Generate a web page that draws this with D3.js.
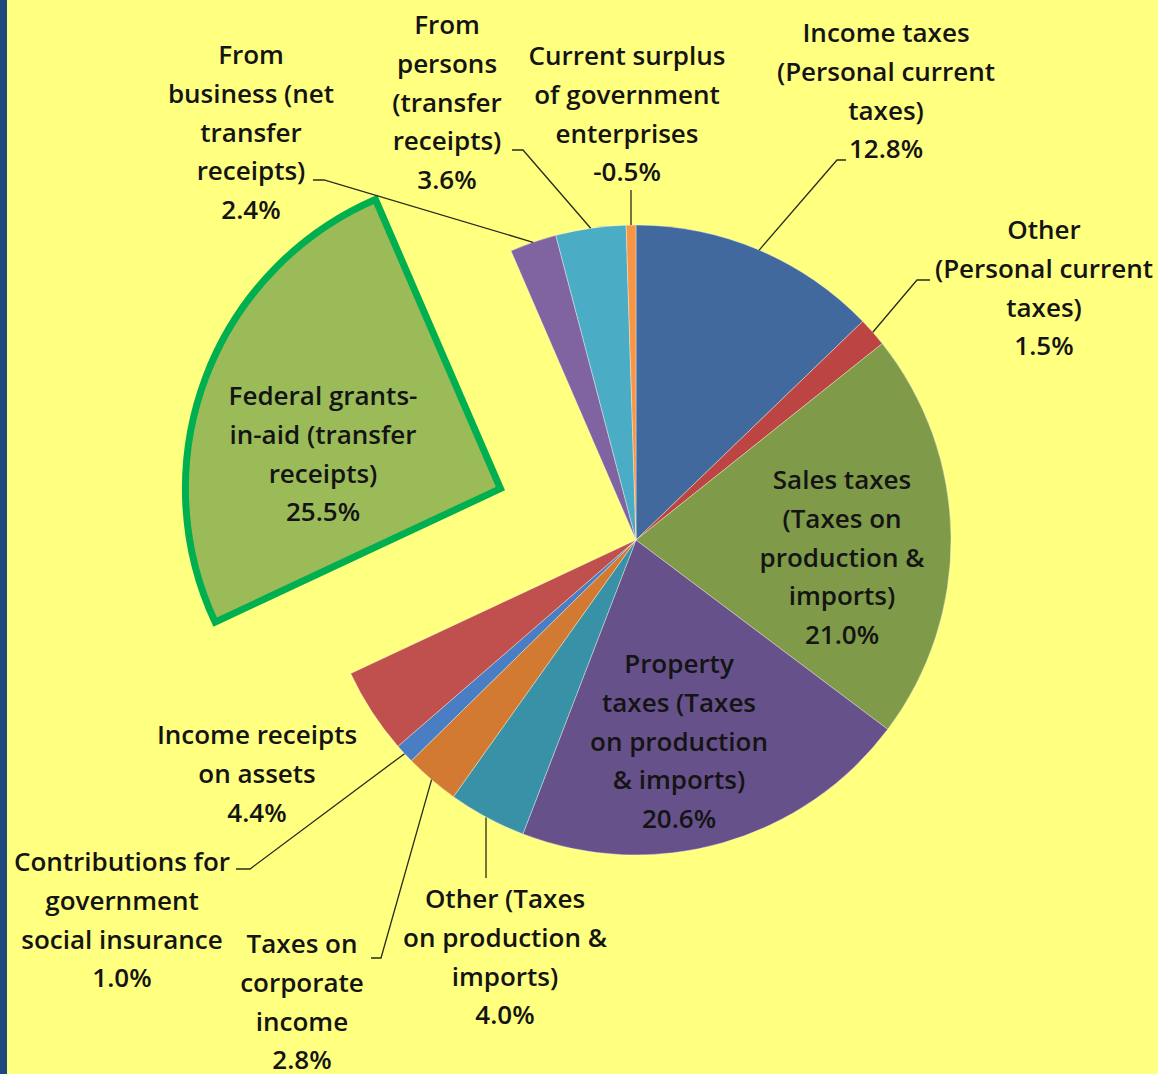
<!DOCTYPE html>
<html>
<head>
<meta charset="utf-8">
<script src="https://cdn.jsdelivr.net/npm/d3@7"></script>
<style>
  html, body { margin: 0; padding: 0; background: #FFFF80; }
  svg { display: block; }
  text { font-family: "Open Sans", Lato, sans-serif; font-weight: 600; fill: #141414; }
</style>
</head>
<body>
<svg id="chart" width="1158" height="1074"></svg>
<script>
// State and local government current receipts, share of total (%)
const categoryLines = [
  ["Income taxes", "(Personal current", "taxes)"],
  ["Other", "(Personal current", "taxes)"],
  ["Sales taxes", "(Taxes on", "production &", "imports)"],
  ["Property", "taxes (Taxes", "on production", "& imports)"],
  ["Other (Taxes", "on production &", "imports)"],
  ["Taxes on", "corporate", "income"],
  ["Contributions for", "government", "social insurance"],
  ["Income receipts", "on assets"],
  ["Federal grants-", "in-aid (transfer", "receipts)"],
  ["From", "business (net", "transfer", "receipts)"],
  ["From", "persons", "(transfer", "receipts)"],
  ["Current surplus", "of government", "enterprises"]
];
const shares = [12.8, 1.5, 21.0, 20.6, 4.0, 2.8, 1.0, 4.4, 25.5, 2.4, 3.6, -0.5];
const sliceColors = [
  "#41699D", "#BC4543", "#7F9A48", "#67518A", "#3891A7", "#D27A32",
  "#4A7EC4", "#C0504D", "#9BBB59", "#8064A2", "#4BACC6", "#F79646"
];
const highlighted = 8;   // Federal grants-in-aid is pulled out and outlined

// Label placement: centre x and first-line centre y for each slice label
const labelAt = [
  [886, 33], [1044, 230], [842, 480], [679, 664], [505, 899], [302, 944],
  [122, 862], [257, 735], [323, 396], [251, 55], [447, 25], [627, 56]
];
// Leader-line bends (from the slice rim to the label); null = no leader
const leaderBends = [
  [[837, 160], [846, 160]],
  [[917, 280], [930, 280]],
  null, null,
  [[486, 878]],
  [[381, 958], [371, 958]],
  [[250, 869], [236, 869]],
  null, null,
  [[324, 180], [313, 180]],
  [[523, 150], [512, 150]],
  [[631, 190]]
];

const W = 1158, H = 1074;
const cx = 636, cy = 540, R = 315, explode = 145, lineH = 38.7;

const svg = d3.select("#chart");
svg.append("rect").attr("width", W).attr("height", H).attr("fill", "#FFFF80");
svg.append("rect").attr("x", 0).attr("y", 0).attr("width", 7).attr("height", H).attr("fill", "#1F497D");

const pie = d3.pie().sort(null).value(d => Math.abs(d.value));
const data = shares.map((v, i) => ({ i, value: v, lines: categoryLines[i], color: sliceColors[i] }));
const arcs = pie(data);
const arc = d3.arc().innerRadius(0).outerRadius(R);

const offset = d => {
  if (d.data.i !== highlighted) return [0, 0];
  const a = (d.startAngle + d.endAngle) / 2;
  return [explode * Math.sin(a), -explode * Math.cos(a)];
};

const g = svg.append("g").attr("transform", `translate(${cx},${cy})`);

g.selectAll("path.slice")
  .data(arcs)
  .join("path")
  .attr("class", "slice")
  .attr("transform", d => `translate(${offset(d)})`)
  .attr("d", arc)
  .attr("fill", d => d.data.color)
  .attr("stroke", "#ffffff")
  .attr("stroke-opacity", 0.45)
  .attr("stroke-width", 0.8);

// outline on the pulled-out slice
g.selectAll("path.outline")
  .data(arcs.filter(d => d.data.i === highlighted))
  .join("path")
  .attr("class", "outline")
  .attr("transform", d => `translate(${offset(d)})`)
  .attr("d", arc)
  .attr("fill", "none")
  .attr("stroke", "#00B050")
  .attr("stroke-width", 7)
  .attr("stroke-linejoin", "miter");

// leader lines
const rim = d => {
  const a = (d.startAngle + d.endAngle) / 2;
  return [cx + R * Math.sin(a), cy - R * Math.cos(a)];
};
svg.selectAll("path.leader")
  .data(arcs.filter(d => leaderBends[d.data.i]))
  .join("path")
  .attr("class", "leader")
  .attr("d", d => {
    const p0 = rim(d);
    const bends = leaderBends[d.data.i];
    const pts = [p0].concat(bends);
    if (bends.length === 1) pts[0] = [bends[0][0], p0[1]];
    return d3.line()(pts);
  })
  .attr("fill", "none")
  .attr("stroke", "#2a2a1a")
  .attr("stroke-width", 1.3);

// labels: category lines followed by the value
const fmt = d3.formatLocale({ decimal: ".", thousands: ",", grouping: [3], currency: ["$", ""], minus: "-" }).format(".1f");
const labels = svg.selectAll("text.label")
  .data(arcs)
  .join("text")
  .attr("class", "label")
  .attr("text-anchor", "middle")
  .attr("font-size", 26);
labels.each(function(d) {
  const [x, y] = labelAt[d.data.i];
  const rows = d.data.lines.concat([fmt(d.data.value) + "%"]);
  d3.select(this).selectAll("tspan")
    .data(rows)
    .join("tspan")
    .attr("x", x)
    .attr("y", (r, k) => y + k * lineH)
    .attr("dy", "0.35em")
    .text(r => r);
});
</script>
</body>
</html>
